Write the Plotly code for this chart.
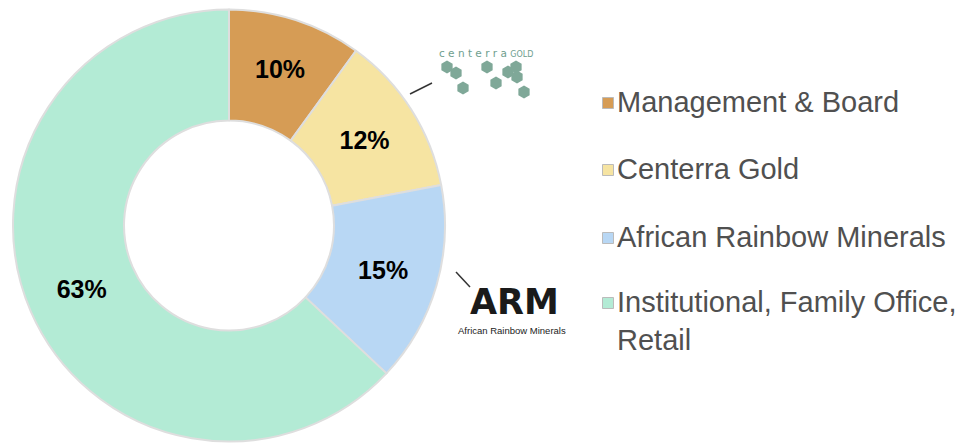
import plotly.graph_objects as go

# ---- data ----
labels = ["Management & Board", "Centerra Gold", "African Rainbow Minerals",
          "Institutional, Family Office,<br>Retail"]
values = [10, 12, 15, 63]
colors = ["#D69C55", "#F6E4A2", "#B8D7F4", "#B3EBD5"]

W, H = 973, 445
OFF = 8  # page body margin of the written html
FONT = "Liberation Sans, Arial, sans-serif"

fig = go.Figure()

# donut: screen box x 13..445, y 9..442
fig.add_trace(go.Pie(
    labels=labels, values=values, sort=False, direction="clockwise", rotation=0,
    hole=0.486,
    marker=dict(colors=colors, line=dict(color="#dedede", width=2)),
    texttemplate="%{value}%", textposition="inside", insidetextorientation="horizontal",
    textfont=dict(family=FONT, size=25, color="black", weight="bold"),
    domain=dict(x=[(13 - OFF) / W, (445 - OFF) / W],
                y=[(H - (442 - OFF)) / H, (H - (9 - OFF)) / H]),
    showlegend=False, hoverinfo="label+percent",
))

# ---- manual legend ----
legend_y = [102, 169, 237, 302]
fig.add_trace(go.Scatter(
    x=[608] * 4, y=[y + 1 for y in legend_y], mode="markers",
    marker=dict(symbol="square", size=11, color=colors, line=dict(color="#bbbbbb", width=1)),
    xaxis="x", yaxis="y", showlegend=False, hoverinfo="skip",
))
annotations = []
for lab, y in zip(labels, legend_y):
    annotations.append(dict(
        x=615, y=y, xref="x", yref="y", text=lab, showarrow=False,
        xanchor="left", yanchor="top" if "<br>" in lab else "middle",
        yshift=18 if "<br>" in lab else 0,
        align="left", font=dict(family=FONT, size=29, color="#505050"),
    ))

# ---- logos (decorative) ----
hex_x = [447, 456, 463, 487, 496, 508, 516, 517, 524]
hex_y = [67, 73, 88, 67, 83, 72, 67, 77, 92]
fig.add_trace(go.Scatter(
    x=hex_x, y=hex_y, mode="markers",
    marker=dict(symbol="hexagon", size=13, color="#7FA898"),
    xaxis="x", yaxis="y", showlegend=False, hoverinfo="skip",
))
annotations.append(dict(
    x=486, y=53, xref="x", yref="y", showarrow=False,
    text="c e n t e r r a <span style='font-size:8px'>GOLD</span>",
    font=dict(family="DejaVu Sans, sans-serif", size=10.5, color="#6E9E8E"),
))
annotations.append(dict(
    x=514, y=302, xref="x", yref="y", showarrow=False, text="<b>ARM</b>",
    font=dict(family="DejaVu Sans, sans-serif", size=35, color="#1a1a1a"),
))
annotations.append(dict(
    x=512, y=330, xref="x", yref="y", showarrow=False, text="African Rainbow Minerals",
    font=dict(family=FONT, size=9.5, color="#222222"),
))

shapes = [
    dict(type="line", xref="x", yref="y", x0=410, y0=94, x1=432, y1=83,
         line=dict(color="#333333", width=1.5)),
    dict(type="line", xref="x", yref="y", x0=456, y0=272, x1=470, y1=287,
         line=dict(color="#333333", width=1.5)),
]

fig.update_layout(
    width=W, height=H, margin=dict(l=0, r=0, t=0, b=0),
    paper_bgcolor="white", plot_bgcolor="rgba(0,0,0,0)",
    xaxis=dict(range=[OFF, W + OFF], domain=[0, 1], visible=False, fixedrange=True),
    yaxis=dict(range=[H + OFF, OFF], domain=[0, 1], visible=False, fixedrange=True),
    annotations=annotations, shapes=shapes, showlegend=False,
)

fig.write_html("out.html")
